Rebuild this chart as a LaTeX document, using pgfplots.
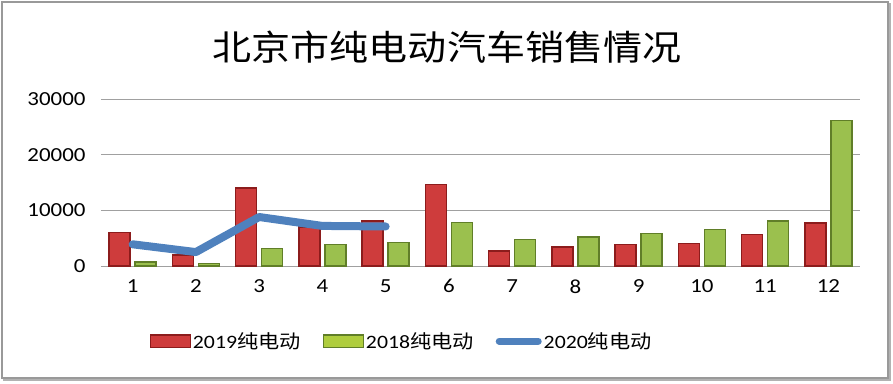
\documentclass[border=0pt]{standalone}
\usepackage{pgfplots}
\pgfplotsset{compat=1.18}
\usepackage{fontspec}
\setmainfont{Carlito}[FakeStretch=1.15]
\newfontfamily\cjk{Noto Sans CJK SC}[FakeStretch=1.12]
\definecolor{rmid}{RGB}{206,60,60}
\definecolor{redge}{RGB}{140,28,28}
\definecolor{gmid}{RGB}{155,192,78}
\definecolor{gedge}{RGB}{96,126,40}
\definecolor{bline}{RGB}{79,129,189}
\definecolor{gridc}{RGB}{160,160,160}
\begin{document}
\begin{tikzpicture}
\useasboundingbox (-101bp,-118bp) rectangle (792bp,266bp);
\draw[gray!80, line width=1.5bp] (-99bp,-112bp) rectangle (787bp,264bp);
\draw[gray!60, line width=2.5bp] (-98bp,-114bp) -- (789bp,-114bp) -- (789bp,263bp);
\node[font=\cjk\fontsize{35}{37}\selectfont] at (346bp,219bp) {北京市纯电动汽车销售情况};
\begin{axis}[
  at={(0bp,0bp)}, anchor=south west,
  scale only axis, width=759bp, height=167bp,
  xmin=0.5, xmax=12.5, ymin=0, ymax=30000,
  axis line style={draw=none},
  xtick={1,...,12}, ytick={0,10000,20000,30000},
  major tick length=0pt,
  ymajorgrids, grid style={gridc, line width=1bp},
  /pgf/number format/1000 sep={},
  /pgf/number format/assume math mode=true,
  ticklabel style={font=\fontsize{20}{22}\selectfont, text=black},
  yticklabel style={xshift=-12bp},
  xticklabel style={yshift=-10bp},
  scaled y ticks=false,
  clip=false,
  legend style={at={(0.396,-0.45)}, anchor=center, draw=none, fill=none,
    legend columns=3, font=\fontsize{19}{21}\selectfont,
    /tikz/every even column/.append style={column sep=20bp},
    nodes={inner sep=2bp}},
]
\addplot[ybar, bar width=21bp, bar shift=-13bp, draw=redge, line width=1.3bp, fill=rmid,
  legend image code/.code={\draw[fill=rmid, draw=redge, line width=1.3bp] (0bp,-6bp) rectangle (40bp,6bp);}]
  coordinates {(1,6000) (2,2000) (3,14000) (4,7000) (5,8100) (6,14600) (7,2700) (8,3400) (9,3800) (10,4000) (11,5600) (12,7700)};
\addlegendentry{2019{\cjk 纯电动}}
\addplot[ybar, bar width=21bp, bar shift=13bp, draw=gedge, line width=1.3bp, fill=gmid,
  legend image code/.code={\draw[fill=gmid!80!yellow, draw=gedge, line width=1.3bp] (0bp,-6bp) rectangle (40bp,6bp);}]
  coordinates {(1,700) (2,500) (3,3200) (4,3800) (5,4200) (6,7800) (7,4800) (8,5200) (9,5800) (10,6600) (11,8100) (12,26200)};
\addlegendentry{2018{\cjk 纯电动}}
\addplot[bline, line width=8bp, line cap=round, line join=round, mark=none,
  legend image code/.code={\draw[bline, line width=7bp, line cap=round] (3bp,0bp) -- (42bp,0bp);}]
  coordinates {(1,3900) (2,2500) (3,8800) (4,7200) (5,7100)};
\addlegendentry{2020{\cjk 纯电动}}
\end{axis}
\end{tikzpicture}
\end{document}
